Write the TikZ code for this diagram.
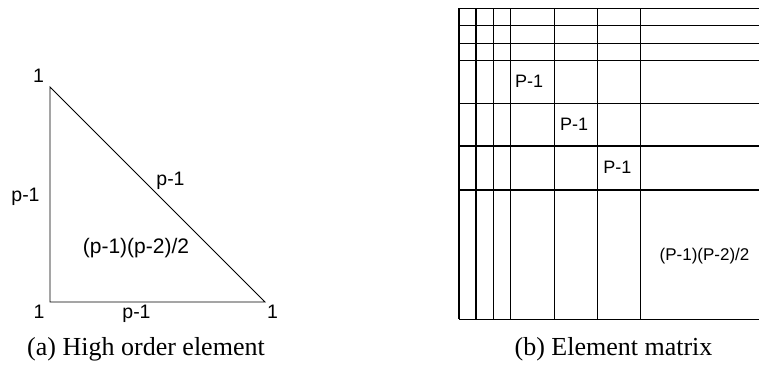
\documentclass[tikz,border=0pt]{standalone}
\usepackage{fontspec}
\setmainfont{Liberation Serif}
\setsansfont{Liberation Sans}
\begin{document}
\begin{tikzpicture}[x=1pt,y=-1pt,
  lbl/.style={font=\sffamily\fontsize{18}{20}\selectfont, anchor=base, inner sep=0pt},
  tlbl/.style={font=\sffamily\fontsize{19.5}{21}\selectfont, anchor=base, inner sep=0pt},
  captext/.style={font=\rmfamily\fontsize{26}{28}\selectfont, anchor=base, inner sep=0pt},
  tri/.style={line width=0.9pt, line join=miter},
  gridline/.style={line width=1.1pt}]
\useasboundingbox (0,0) rectangle (759,365);
% triangle
\coordinate (A) at (50,87);
\coordinate (B) at (50,302);
\coordinate (C) at (265,302);
\draw[tri] (A) -- (B) -- (C) -- cycle;
\node[tlbl] (ta) at (38.5,82.7) {1};
\node[tlbl] (tb) at (39,318) {1};
\node[tlbl] (tc) at (272.5,318) {1};
\node[tlbl] (el) at (25.5,201.5) {p-1};
\node[tlbl] (eh) at (170.5,185.5) {p-1};
\node[tlbl] (eb) at (136.5,318) {p-1};
\node[tlbl, font=\sffamily\fontsize{21}{23}\selectfont] (int) at (136,253) {(p-1)(p-2)/2};
\node[captext] (capa) at (146,355) {(a) High order element};
% matrix
\foreach \x in {459,476,493.3,510.7,554.3,597.3,640.3}
  \draw[gridline] (\x,8.3) -- (\x,319.3);
\foreach \y in {8.3,25.7,43.3,60.3,103.3,146,190,319.3}
  \draw[gridline] (459,\y) -- (759,\y);
\node[lbl] (m1) at (529,87.3) {P-1};
\node[lbl] (m2) at (574,130) {P-1};
\node[lbl] (m3) at (617.3,173.3) {P-1};
\node[lbl, font=\sffamily\fontsize{17}{19}\selectfont] (m4) at (704.5,260.7) {(P-1)(P-2)/2};
\node[captext] (capb) at (613.5,355) {(b) Element matrix};
\end{tikzpicture}
\end{document}
